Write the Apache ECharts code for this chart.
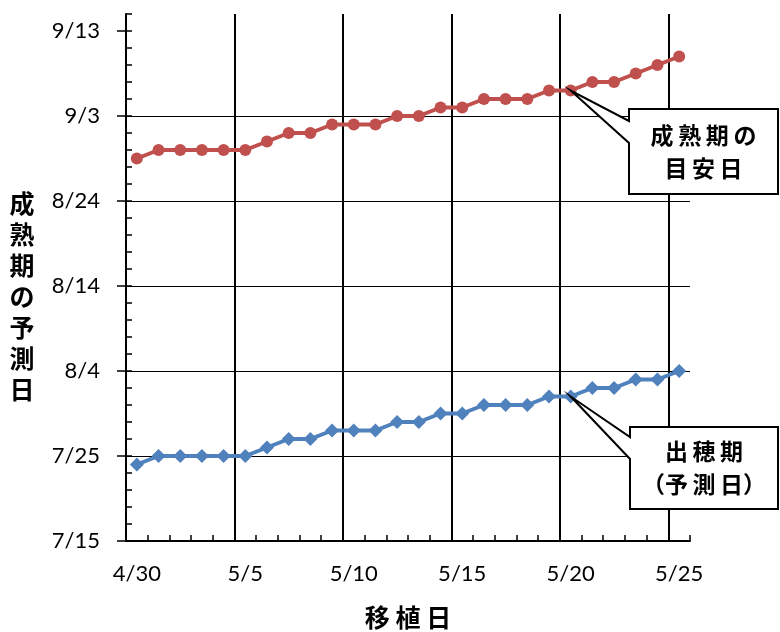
<!DOCTYPE html>
<html>
<head>
<meta charset="utf-8">
<script src="https://cdn.jsdelivr.net/npm/echarts@6/dist/echarts.min.js"></script>
<style>
  html, body { margin: 0; padding: 0; background: #fff; }
  #chart { width: 780px; height: 632px; }
</style>
</head>
<body>
<div id="chart"></div>
<script>
// 移植日 (x categories)
const plantDates = ['4/30', '5/1', '5/2', '5/3', '5/4', '5/5', '5/6', '5/7', '5/8', '5/9',
  '5/10', '5/11', '5/12', '5/13', '5/14', '5/15', '5/16', '5/17', '5/18', '5/19',
  '5/20', '5/21', '5/22', '5/23', '5/24', '5/25'];

// 成熟期の目安日
const maturityDates = ['8/29', '8/30', '8/30', '8/30', '8/30', '8/30', '8/31', '9/1', '9/1', '9/2',
  '9/2', '9/2', '9/3', '9/3', '9/4', '9/4', '9/5', '9/5', '9/5', '9/6',
  '9/6', '9/7', '9/7', '9/8', '9/9', '9/10'];

// 出穂期（予測日）
const headingDates = ['7/24', '7/25', '7/25', '7/25', '7/25', '7/25', '7/26', '7/27', '7/27', '7/28',
  '7/28', '7/28', '7/29', '7/29', '7/30', '7/30', '7/31', '7/31', '7/31', '8/1',
  '8/1', '8/2', '8/2', '8/3', '8/3', '8/4'];

// y axis tick labels and range
const yTickLabels = ['7/15', '7/25', '8/4', '8/14', '8/24', '9/3', '9/13'];
const yRange = ['7/15', '9/15'];
const calloutAt = '5/20';

// dates -> day number counted from the first y tick
const base = Date.UTC(2020, 6, 15);
function toDay(md) {
  const [m, d] = md.split('/').map(Number);
  return (Date.UTC(2020, m - 1, d) - base) / 864e5;
}
function toLabel(day) {
  const dt = new Date(base + day * 864e5);
  return (dt.getUTCMonth() + 1) + '/' + dt.getUTCDate();
}

const numFont = 'Lato';
const jpFont = '"Noto Sans CJK JP"';
const yMajor = yTickLabels.map(toDay);

const chart = echarts.init(document.getElementById('chart'));

chart.setOption({
  animation: false,
  grid: { left: 126, right: 90, top: 14, bottom: 91, outerBoundsMode: 'none' },
  xAxis: {
    type: 'category',
    data: plantDates,
    boundaryGap: true,
    name: '移 植 日',
    nameLocation: 'middle',
    nameGap: 64,
    nameTextStyle: { fontFamily: jpFont, fontSize: 25, fontWeight: 'bold', color: '#000' },
    axisLine: { lineStyle: { color: '#000', width: 2 } },
    axisTick: { show: true, interval: 0, inside: true, length: 6, lineStyle: { color: '#000', width: 1.5 } },
    axisLabel: { interval: 4, margin: 22, fontSize: 22, color: '#000', fontFamily: numFont },
    splitLine: {
      show: true,
      showMaxLine: false,
      interval: (i) => i > 0 && i % 5 === 0,
      lineStyle: { color: '#000', width: 2 }
    }
  },
  yAxis: [
    {
      type: 'value',
      min: toDay(yRange[0]),
      max: toDay(yRange[1]),
      interval: 10,
      axisLine: { show: true, lineStyle: { color: '#000', width: 2 } },
      axisTick: { show: true, customValues: yMajor, length: 9, lineStyle: { color: '#000', width: 1.5 } },
      axisLabel: {
        customValues: yMajor,
        margin: 26,
        fontSize: 22,
        color: '#000',
        fontFamily: numFont,
        formatter: (v) => toLabel(v)
      },
      splitLine: { show: true, showMaxLine: false, lineStyle: { color: '#000', width: 1 } }
    },
    {
      // minor ticks every 2 days
      type: 'value',
      position: 'left',
      min: toDay(yRange[0]),
      max: toDay(yRange[1]),
      interval: 2,
      axisLine: { show: false },
      axisTick: { show: true, inside: true, length: 6, lineStyle: { color: '#000', width: 1.5 } },
      axisLabel: { show: false },
      splitLine: { show: false }
    }
  ],
  series: [
    {
      name: '成熟期の目安日',
      type: 'line',
      yAxisIndex: 0,
      data: maturityDates.map(toDay),
      symbol: 'circle',
      symbolSize: 12,
      showAllSymbol: true,
      lineStyle: { color: '#C0504D', width: 4 },
      itemStyle: { color: '#C0504D' }
    },
    {
      name: '出穂期（予測日）',
      type: 'line',
      yAxisIndex: 0,
      data: headingDates.map(toDay),
      symbol: 'diamond',
      symbolSize: 14,
      showAllSymbol: true,
      lineStyle: { color: '#4F81BD', width: 4 },
      itemStyle: { color: '#4F81BD' }
    }
  ]
});

// callout boxes pointing at the 5/20 points
const ci = plantDates.indexOf(calloutAt);
const redTip = chart.convertToPixel({ seriesIndex: 0 }, [ci, toDay(maturityDates[ci])]);
const blueTip = chart.convertToPixel({ seriesIndex: 1 }, [ci, toDay(headingDates[ci])]);

function callout(tip, box, text) {
  const { l, t, r, b, a1, a2 } = box;
  return [
    {
      type: 'polygon',
      z: 100,
      shape: { points: [[l, t], [r, t], [r, b], [l, b], [l, a2], tip, [l, a1]] },
      style: { fill: '#fff', stroke: '#000', lineWidth: 2 }
    },
    {
      type: 'text',
      z: 101,
      x: (l + r) / 2,
      y: (t + b) / 2,
      style: {
        text: text,
        fontFamily: jpFont,
        fontSize: 23,
        fontWeight: 'bold',
        lineHeight: 33,
        fill: '#000',
        align: 'center',
        verticalAlign: 'middle'
      }
    }
  ];
}

chart.setOption({
  graphic: [
    {
      type: 'text',
      x: 22,
      y: 188,
      style: {
        text: '成\n熟\n期\nの\n予\n測\n日',
        fontFamily: jpFont,
        fontSize: 25,
        fontWeight: 'bold',
        lineHeight: 31,
        fill: '#000',
        align: 'center',
        verticalAlign: 'top'
      }
    },
    ...callout(redTip, { l: 629, t: 109, r: 778, b: 194, a1: 121, a2: 143 }, '成\u2009熟\u2009期\u2009の\n目\u2009安\u2009日'),
    ...callout(blueTip, { l: 630, t: 427, r: 778, b: 509, a1: 437, a2: 459 }, '出\u2009穂\u2009期\n（予\u2009測\u2009日）')
  ]
});
</script>
</body>
</html>
